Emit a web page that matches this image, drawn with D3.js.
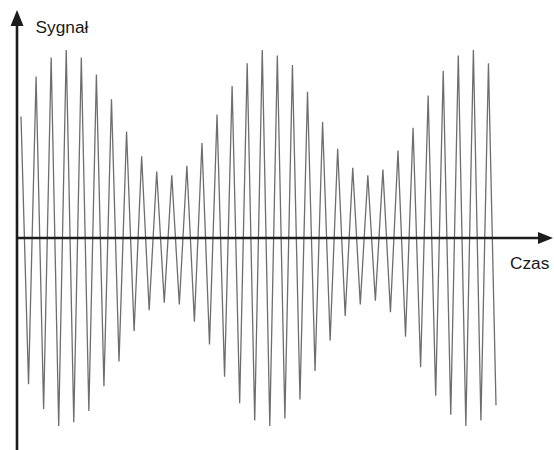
<!DOCTYPE html>
<html>
<head>
<meta charset="utf-8">
<script src="https://cdn.jsdelivr.net/npm/d3@7"></script>
<style>
  html, body { margin: 0; padding: 0; background: #fff; }
  svg { display: block; }
</style>
</head>
<body>
<svg id="chart" width="554" height="450"></svg>
<script>
// Signal extremes in order (normalised amplitude, -1..1)
const signalValues = [
  0.64, -0.77, 0.85, -0.90, 0.95, -0.99, 0.99, -0.97, 0.95, -0.91,
  0.86, -0.78, 0.73, -0.65, 0.56, -0.49, 0.43, -0.38, 0.35, -0.34,
  0.33, -0.35, 0.38, -0.44, 0.50, -0.56, 0.65, -0.73, 0.80, -0.87,
  0.92, -0.96, 0.99, -0.99, 0.96, -0.95, 0.91, -0.85, 0.77, -0.70,
  0.61, -0.54, 0.47, -0.41, 0.37, -0.35, 0.33, -0.33, 0.36, -0.39,
  0.46, -0.52, 0.58, -0.68, 0.75, -0.83, 0.88, -0.93, 0.96, -0.99,
  0.99, -0.96, 0.92, -0.88
];
const timeIndex = signalValues.map((_, i) => i);
const yLabel = "Sygnał";
const xLabel = "Czas";

const svg = d3.select("#chart");
const W = 554, H = 450;

const x = d3.scaleLinear().domain([0, signalValues.length - 1]).range([21, 496]);
const y = d3.scaleLinear().domain([-1, 1]).range([428, 48]);

const axisX0 = 17;
const axisY0 = y(0);

// signal line
svg.append("path")
  .datum(timeIndex)
  .attr("fill", "none")
  .attr("stroke", "#6e6e6e")
  .attr("stroke-width", 1.3)
  .attr("stroke-linejoin", "miter")
  .attr("stroke-miterlimit", 10)
  .attr("d", d3.line().x(i => x(i)).y(i => y(signalValues[i])));

// axes
const axisColor = "#1c1c1c";
svg.append("line")
  .attr("x1", axisX0).attr("y1", H).attr("x2", axisX0).attr("y2", 24)
  .attr("stroke", axisColor).attr("stroke-width", 2.6);
svg.append("line")
  .attr("x1", axisX0).attr("y1", axisY0).attr("x2", 541).attr("y2", axisY0)
  .attr("stroke", axisColor).attr("stroke-width", 2.6);

// arrow heads
svg.append("path")
  .attr("d", `M${axisX0},10 L${axisX0 - 6.5},26 L${axisX0 + 6.5},26 Z`)
  .attr("fill", axisColor);
svg.append("path")
  .attr("d", `M553,${axisY0} L538,${axisY0 - 6} L538,${axisY0 + 6} Z`)
  .attr("fill", axisColor);

// labels
svg.append("text")
  .attr("x", 35.5).attr("y", 33)
  .attr("font-family", "Liberation Sans, Arial, sans-serif")
  .attr("font-size", 17.3)
  .attr("fill", "#1a1a1a")
  .text(yLabel);
svg.append("text")
  .attr("x", 510).attr("y", 269)
  .attr("font-family", "Liberation Sans, Arial, sans-serif")
  .attr("font-size", 17.3)
  .attr("fill", "#1a1a1a")
  .text(xLabel);
</script>
</body>
</html>
